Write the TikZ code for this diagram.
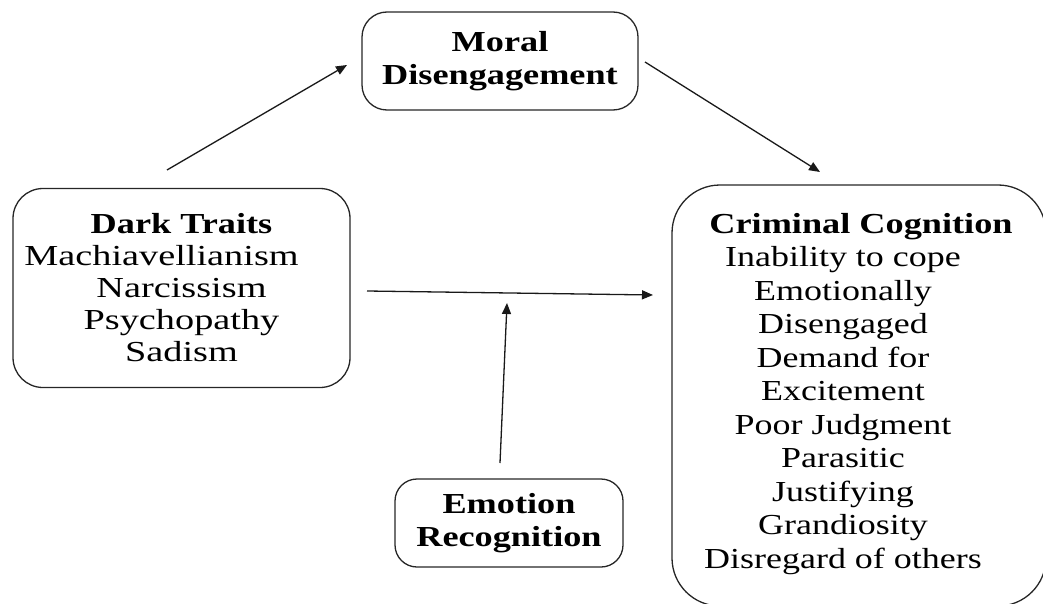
\documentclass[tikz,border=0pt]{standalone}
\usepackage{fontspec}
\setmainfont{Liberation Serif}[FakeStretch=1.32, BoldFeatures={FakeStretch=1.25}]
\newfontfamily\listfont{Liberation Serif}[FakeStretch=1.24, BoldFeatures={FakeStretch=1.25}]
\usetikzlibrary{arrows.meta}
\newcommand{\boxfont}{\fontsize{29}{33.5}\selectfont}
\begin{document}
\begin{tikzpicture}[x=1pt,y=-1pt,
  box/.style={draw=black!85, line width=1.3pt, rounded corners=#1, inner sep=0pt, align=center},
  box/.default=25pt,
  txt/.style={inner sep=0pt, align=center, font=\boxfont},
  arr/.style={draw=black!90, line width=1.3pt, -{Triangle[length=11pt,width=9pt]}}
]
\useasboundingbox (0,0) rectangle (1043,604);
\clip (0,0) rectangle (1043,604);

% boxes
\node[box=25pt, minimum width=276pt, minimum height=98pt, font=\boxfont\bfseries]
  (moral) at (500,61) {Moral\\Disengagement};
\node[box=30pt, minimum width=337pt, minimum height=199pt, font=\boxfont]
  (dark) at (181.5,288) {\textbf{Dark Traits}\\[-1.5pt]\hspace*{-40pt}Machiavellianism\\[-1.5pt]Narcissism\\[-1.5pt]Psychopathy\\[-1.5pt]Sadism};
\node[box=22pt, minimum width=228pt, minimum height=88pt, font=\boxfont\bfseries]
  (emotion) at (509,523) {Emotion\\[-0.5pt]Recognition};
\node[box=48pt, minimum width=374pt, minimum height=421pt]
  (crim) at (859,395.5) {};
\node[txt, font=\boxfont\listfont] (crimtxt) at (843,394)
  {\hspace*{36pt}\textbf{Criminal Cognition}\\Inability to cope\\Emotionally\\Disengaged\\Demand for\\Excitement\\Poor Judgment\\Parasitic\\Justifying\\Grandiosity\\Disregard of others};

% connector ends
\coordinate (a1s) at (167,170);
\coordinate (a1e) at (347,65);
\coordinate (a2s) at (645,62);
\coordinate (a2e) at (820,172);
\coordinate (a3s) at (367,291);
\coordinate (a3e) at (653,295);
\coordinate (a4s) at (500,463);
\coordinate (a4e) at (507,303);

% connectors
\draw[arr] (a1s) -- (a1e);
\draw[arr] (a2s) -- (a2e);
\draw[arr] (a3s) -- (a3e);
\draw[arr] (a4s) -- (a4e);
\end{tikzpicture}
\end{document}
